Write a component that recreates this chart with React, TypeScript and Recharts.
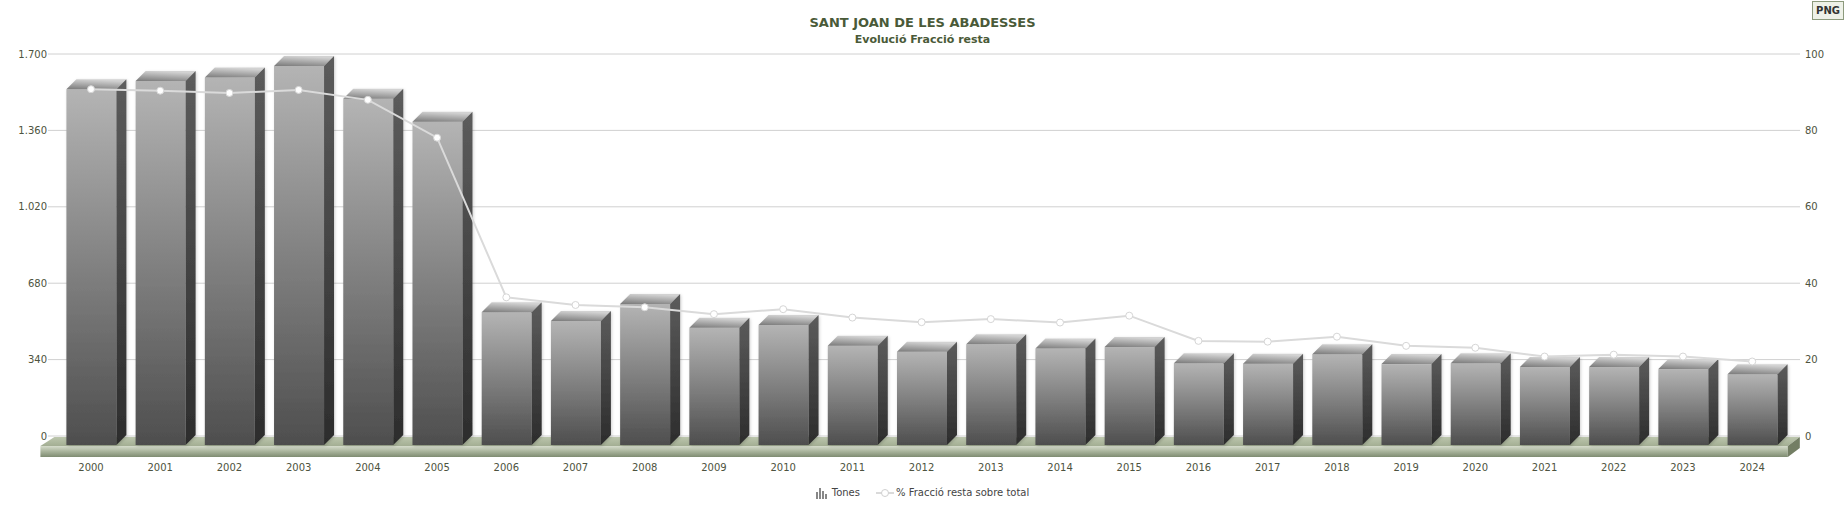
import { ComposedChart, Bar, Line, XAxis, YAxis, CartesianGrid, ReferenceArea } from 'recharts'

// ─── Data ─────────────────────────────────────────────────────────────────────

const years = [
  '2000', '2001', '2002', '2003', '2004', '2005', '2006', '2007', '2008',
  '2009', '2010', '2011', '2012', '2013', '2014', '2015', '2016', '2017',
  '2018', '2019', '2020', '2021', '2022', '2023', '2024',
]

const tones = [
  1583, 1620, 1635, 1687, 1541, 1439, 591, 552, 628,
  522, 534, 442, 415, 448, 429, 436, 364, 362,
  404, 360, 364, 347, 347, 338, 315,
]

const pctResta = [
  90.8, 90.4, 89.8, 90.6, 88.0, 78.1, 36.3, 34.3, 33.7,
  31.9, 33.2, 31.0, 29.8, 30.6, 29.7, 31.5, 24.9, 24.7,
  26.0, 23.6, 23.1, 20.8, 21.3, 20.8, 19.5,
]

const leftTicks = [0, 340, 680, 1020, 1360, 1700]
const rightTicks = [0, 20, 40, 60, 80, 100]

const data = years.map((year, i) => ({ year, tones: tones[i], pct: pctResta[i] }))

const FONT = '"DejaVu Sans", Verdana, sans-serif'
const TEXT = '#4d5340'
const TITLE = '#4a5a38'

const fmtThousands = (v: number) => v.toString().replace(/\B(?=(\d{3})+(?!\d))/g, '.')

// ─── Shapes ───────────────────────────────────────────────────────────────────

function Bar3D(props: any) {
  const { x, y, width, height } = props
  if (width == null || height == null || isNaN(y)) return null
  const d = 10
  const fy = y + 9
  return (
    <g filter="url(#barShadow)">
      <rect x={x} y={fy} width={width} height={height} fill="url(#barFront)" />
      <polygon
        points={`${x},${fy} ${x + d},${fy - d} ${x + width + d},${fy - d} ${x + width},${fy}`}
        fill="url(#barTop)"
      />
      <polygon
        points={`${x + width},${fy} ${x + width + d},${fy - d} ${x + width + d},${fy + height - d} ${x + width},${fy + height}`}
        fill="url(#barSide)"
      />
    </g>
  )
}

function Floor(props: any) {
  const { x, y, width, height } = props
  const b = y + height
  const bl = x - 2
  const br = x + width + 13
  const fl = x - 16
  const fr = x + width + 1
  return (
    <g>
      <polygon points={`${bl},${b + 1} ${br},${b + 1} ${fr},${b + 10} ${fl},${b + 10}`} fill="url(#floorTop)" />
      <rect x={fl} y={b + 10} width={fr - fl} height={11} fill="url(#floorFront)" />
      <polygon points={`${fr},${b + 10} ${br},${b + 1} ${br},${b + 12} ${fr},${b + 21}`} fill="#737e64" />
    </g>
  )
}

const LeftTick = (props: any) => (
  <text x={47} y={props.y} textAnchor="end" dominantBaseline="central" fill={TEXT} fontSize={10} fontFamily={FONT}>
    {fmtThousands(props.payload.value)}
  </text>
)

const RightTick = (props: any) => (
  <text x={1805} y={props.y} textAnchor="start" dominantBaseline="central" fill={TEXT} fontSize={10} fontFamily={FONT}>
    {props.payload.value}
  </text>
)

const YearTick = (props: any) => (
  <text x={props.x} y={467} textAnchor="middle" dominantBaseline="central" fill={TEXT} fontSize={10} fontFamily={FONT}>
    {props.payload.value}
  </text>
)

const gridLine = (p: any) => (
  <line key={p.key ?? `g-${p.index}`} x1={48} x2={1800} y1={p.y1} y2={p.y2} stroke="#d0d0d0" strokeWidth={1} />
)

// ─── App ──────────────────────────────────────────────────────────────────────

export default function App() {
  return (
    <div style={{ position: 'absolute', left: 0, top: 0, width: 1845, height: 524, background: '#fff', fontFamily: FONT }}>
      <div style={{ position: 'absolute', left: 0, top: 15, width: 1845, textAlign: 'center', fontSize: 13, lineHeight: '16px', fontWeight: 'bold', color: TITLE }}>
        SANT JOAN DE LES ABADESSES
      </div>
      <div style={{ position: 'absolute', left: 0, top: 33, width: 1845, textAlign: 'center', fontSize: 11, lineHeight: '14px', fontWeight: 'bold', color: TITLE }}>
        Evolució Fracció resta
      </div>
      <div
        style={{
          position: 'absolute', left: 1812, top: 1, width: 30, height: 17, border: '1px solid #8c9a7c',
          background: '#eef1e8', fontSize: 10, fontWeight: 'bold', lineHeight: '17px', textAlign: 'center', color: '#333',
        }}
      >
        PNG
      </div>

      <ComposedChart width={1845} height={524} data={data} margin={{ top: 54, right: 0, bottom: 58, left: 0 }}>
        <defs>
          <linearGradient id="barFront" x1="0" y1="0" x2="0" y2="1">
            <stop offset="0%" stopColor="#b4b4b4" />
            <stop offset="100%" stopColor="#4e4e4e" />
          </linearGradient>
          <linearGradient id="barSide" x1="0" y1="0" x2="0" y2="1">
            <stop offset="0%" stopColor="#5c5c5c" />
            <stop offset="100%" stopColor="#2c2c2c" />
          </linearGradient>
          <linearGradient id="barTop" x1="0" y1="1" x2="0.3" y2="0">
            <stop offset="0%" stopColor="#7a7a7a" />
            <stop offset="100%" stopColor="#d2d2d2" />
          </linearGradient>
          <linearGradient id="floorTop" x1="0" y1="0" x2="0" y2="1">
            <stop offset="0%" stopColor="#bcc6ad" />
            <stop offset="100%" stopColor="#a3ae93" />
          </linearGradient>
          <linearGradient id="floorFront" x1="0" y1="0" x2="0" y2="1">
            <stop offset="0%" stopColor="#d6dccc" />
            <stop offset="50%" stopColor="#a8b39b" />
            <stop offset="100%" stopColor="#7f8c72" />
          </linearGradient>
          <filter id="barShadow" x="-20%" y="-10%" width="140%" height="120%">
            <feDropShadow dx="1" dy="1" stdDeviation="1.5" floodColor="#000" floodOpacity="0.18" />
          </filter>
        </defs>
        <CartesianGrid yAxisId="left" vertical={false} horizontal={gridLine} />
        <XAxis dataKey="year" height={30} axisLine={false} tickLine={false} tick={<YearTick />} interval={0} />
        <YAxis
          yAxisId="left"
          width={56.4}
          domain={[0, 1700]}
          ticks={leftTicks}
          axisLine={false}
          tickLine={false}
          tick={<LeftTick />}
        />
        <YAxis
          yAxisId="right"
          orientation="right"
          width={58.2}
          domain={[0, 100]}
          ticks={rightTicks}
          axisLine={false}
          tickLine={false}
          tick={<RightTick />}
        />
        <ReferenceArea yAxisId="left" y1={0} y2={100} shape={<Floor />} ifOverflow="visible" />
        <Bar yAxisId="left" dataKey="tones" barSize={50} shape={<Bar3D />} isAnimationActive={false} />
        <Line
          yAxisId="right"
          type="linear"
          dataKey="pct"
          stroke="#dadada"
          strokeWidth={2}
          dot={{ r: 3.5, fill: '#fff', stroke: '#d6d6d6', strokeWidth: 1 }}
          activeDot={false}
          isAnimationActive={false}
        />
      </ComposedChart>

      <div
        style={{
          position: 'absolute', left: 0, top: 486, width: 1845, display: 'flex', justifyContent: 'center',
          alignItems: 'center', gap: 16, fontSize: 10, color: '#444', lineHeight: '14px',
        }}
      >
        <span style={{ display: 'flex', alignItems: 'center', gap: 4 }}>
          <svg width={12} height={11}>
            <rect x={0} y={4} width={2} height={7} fill="#888" />
            <rect x={3} y={0} width={2} height={11} fill="#888" />
            <rect x={6} y={3} width={2} height={8} fill="#888" />
            <rect x={9} y={6} width={2} height={5} fill="#888" />
          </svg>
          Tones
        </span>
        <span style={{ display: 'flex', alignItems: 'center', gap: 2 }}>
          <svg width={18} height={10}>
            <line x1={0} y1={5} x2={18} y2={5} stroke="#dadada" strokeWidth={2} />
            <circle cx={9} cy={5} r={3.5} fill="#fff" stroke="#d0d0d0" strokeWidth={1} />
          </svg>
          % Fracció resta sobre total
        </span>
      </div>
    </div>
  )
}
